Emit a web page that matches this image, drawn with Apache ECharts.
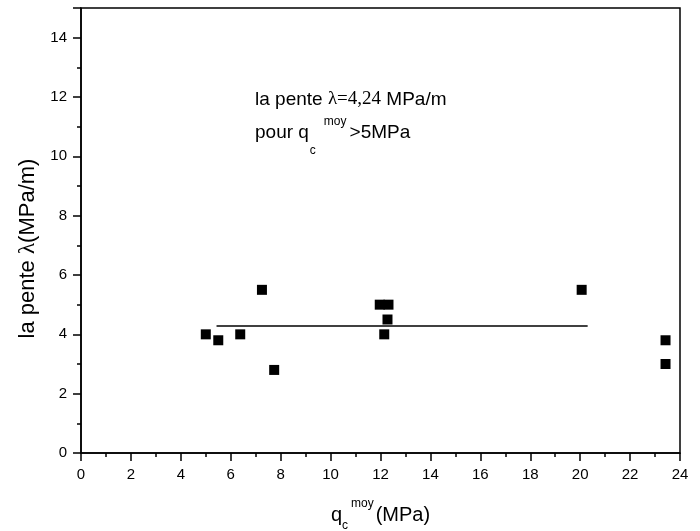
<!DOCTYPE html>
<html><head><meta charset="utf-8">
<script src="https://cdn.jsdelivr.net/npm/echarts@6/dist/echarts.min.js"></script>
<style>html,body{margin:0;padding:0;background:#fff}#c{width:700px;height:531px}</style>
</head><body><div id="c"></div>
<script>
const qcMoy = [5.0, 5.5, 6.38, 7.25, 7.74, 11.97, 12.32, 12.28, 12.15, 20.06, 23.42, 23.42];
const pente = [4.0, 3.8, 4.0, 5.5, 2.8, 5.0, 5.0, 4.5, 4.0, 5.5, 3.8, 3.0];
const fitX = [5.43, 20.3];
const fitY = 4.28;
const xTicks = [0, 24, 2];
const yTicks = [0, 15, 2];

const sans = 'Liberation Sans, Arial, sans-serif';
const serif = 'Liberation Serif, Times New Roman, serif';
const chart = echarts.init(document.getElementById('c'));
const axisCommon = {
  axisLine: {onZero: false, lineStyle: {color: '#000', width: 1.5}},
  axisTick: {show: true, inside: false, length: 8, lineStyle: {color: '#000', width: 1.5}},
  minorTick: {show: true, splitNumber: 2, length: 4, lineStyle: {color: '#000', width: 1.5}},
  splitLine: {show: false},
  axisLabel: {color: '#000', fontFamily: sans, fontSize: 15, margin: 14, showMaxLabel: false}
};
chart.setOption({
  animation: false,
  backgroundColor: '#fff',
  grid: {left: 81, right: 20, top: 8, bottom: 78, show: true, borderColor: '#000', borderWidth: 1.5,
         backgroundColor: 'transparent', containLabel: false, outerBoundsMode: 'none'},
  xAxis: Object.assign({
    type: 'value', min: xTicks[0], max: xTicks[1], interval: xTicks[2],
    name: '{q|q}{c|c}{m|moy}{t|(MPa)}',
    nameLocation: 'middle', nameGap: 45,
    nameTextStyle: {
      rich: {
        q: {fontFamily: sans, fontSize: 20, color: '#000', lineHeight: 34},
        c: {fontFamily: sans, fontSize: 12, color: '#000', verticalAlign: 'bottom', lineHeight: 34},
        m: {fontFamily: sans, fontSize: 12, color: '#000', verticalAlign: 'top', lineHeight: 34, padding: [0, 2, 0, 3]},
        t: {fontFamily: sans, fontSize: 20, color: '#000', lineHeight: 34}
      }
    }
  }, axisCommon, {axisLabel: Object.assign({}, axisCommon.axisLabel, {showMaxLabel: true})}),
  yAxis: Object.assign({
    type: 'value', min: yTicks[0], max: yTicks[1], interval: yTicks[2],
    name: '{a|la pente }{l|λ}{a|(MPa/m)}',
    nameLocation: 'middle', nameGap: 33, nameRotate: 90,
    nameTextStyle: {
      padding: [0, 36, 0, 0],
      rich: {
        a: {fontFamily: sans, fontSize: 22, color: '#000'},
        l: {fontFamily: serif, fontSize: 23, color: '#000'}
      }
    }
  }, axisCommon),
  series: [
    {
      type: 'scatter', symbol: 'rect', symbolSize: 10,
      itemStyle: {color: '#000', opacity: 1},
      data: qcMoy.map((x, i) => [x, pente[i]])
    },
    {
      type: 'line', symbol: 'none', silent: true,
      lineStyle: {color: '#000', width: 1.5},
      data: fitX.map(x => [x, fitY])
    }
  ],
  graphic: [
    {
      type: 'text', left: 255, top: 90,
      style: {
        text: '{a|la pente }{l|λ=4,24}{a| MPa/m}',
        rich: {
          a: {fontFamily: sans, fontSize: 19, fill: '#000', lineHeight: 24},
          l: {fontFamily: serif, fontSize: 19, fill: '#000', lineHeight: 24}
        }
      }
    },
    {
      type: 'text', left: 255, top: 109,
      style: {
        text: '{a|pour q}{c|c}{m|moy}{a|>5MPa}',
        rich: {
          a: {fontFamily: sans, fontSize: 19, fill: '#000', lineHeight: 48},
          c: {fontFamily: sans, fontSize: 12, fill: '#000', verticalAlign: 'bottom', lineHeight: 48, padding: [0, 0, 0, 1]},
          m: {fontFamily: sans, fontSize: 12, fill: '#000', verticalAlign: 'top', lineHeight: 48, padding: [7, 3, 0, 8]}
        }
      }
    }
  ]
});
</script></body></html>
